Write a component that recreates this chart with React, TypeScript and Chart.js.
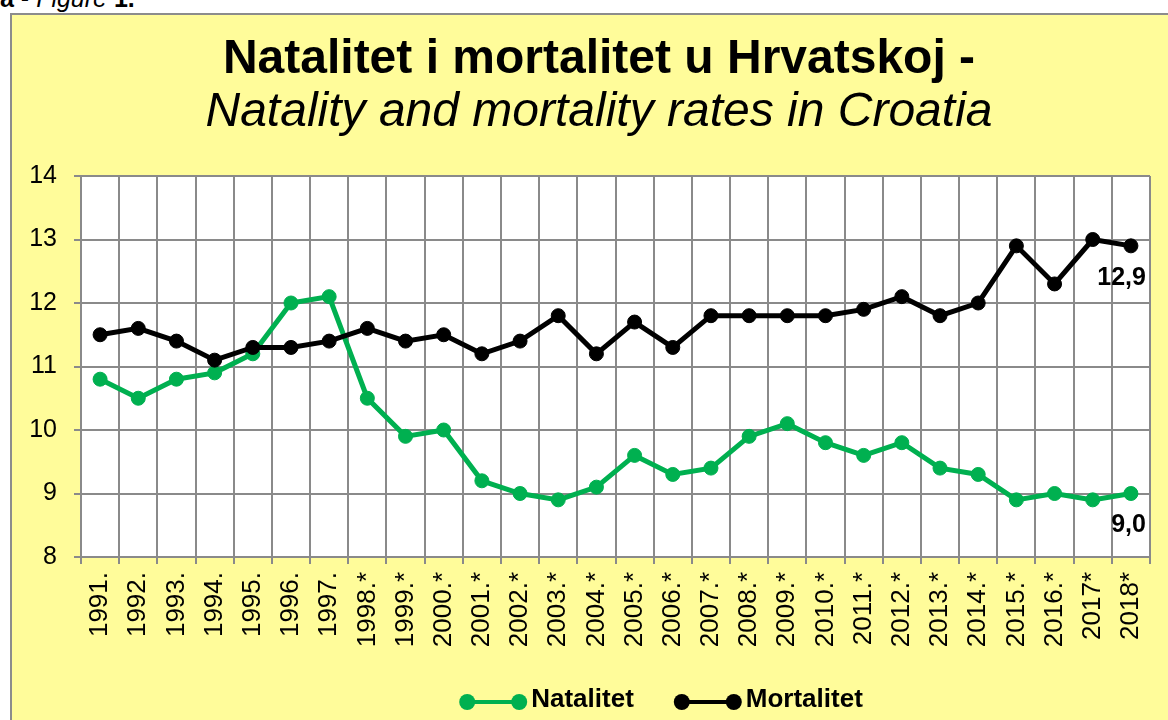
import React, { useEffect, useRef } from "react";
import { Chart, registerables } from "chart.js";

Chart.register(...registerables);

const FONT = '"Liberation Sans", Arial, Helvetica, sans-serif';

const categories = [
  "1991.", "1992.", "1993.", "1994.", "1995.", "1996.", "1997.",
  "1998.*", "1999.*", "2000.*", "2001.*", "2002.*", "2003.*", "2004.*",
  "2005.*", "2006.*", "2007.*", "2008.*", "2009.*", "2010.*", "2011.*",
  "2012.*", "2013.*", "2014.*", "2015.*", "2016.*", "2017*", "2018*",
];

const natalitet = [
  10.8, 10.5, 10.8, 10.9, 11.2, 12.0, 12.1, 10.5, 9.9, 10.0, 9.2, 9.0, 8.9, 9.1,
  9.6, 9.3, 9.4, 9.9, 10.1, 9.8, 9.6, 9.8, 9.4, 9.3, 8.9, 9.0, 8.9, 9.0,
];

const mortalitet = [
  11.5, 11.6, 11.4, 11.1, 11.3, 11.3, 11.4, 11.6, 11.4, 11.5, 11.2, 11.4, 11.8, 11.2,
  11.7, 11.3, 11.8, 11.8, 11.8, 11.8, 11.9, 12.1, 11.8, 12.0, 12.9, 12.3, 13.0, 12.9,
];

const seriesNames = ["Natalitet", "Mortalitet"];
const seriesColors = ["#00B050", "#000000"];

const titleText = "Natalitet i mortalitet u Hrvatskoj -";
const subtitleText = "Natality and mortality rates in Croatia";

const yMin = 8;
const yMax = 14;
const yStep = 1;

const GRID = "#8a8a8a";

const plotBgPlugin = {
  id: "plotBg",
  beforeDraw(chart: any) {
    const { ctx, chartArea } = chart;
    ctx.save();
    ctx.fillStyle = "#ffffff";
    ctx.fillRect(chartArea.left, chartArea.top, chartArea.right - chartArea.left, chartArea.bottom - chartArea.top);
    ctx.restore();
  },
};

const endLabelPlugin = {
  id: "endLabels",
  afterDatasetsDraw(chart: any) {
    const ctx = chart.ctx;
    ctx.save();
    ctx.font = `bold 25px ${FONT}`;
    ctx.fillStyle = "#000";
    ctx.textAlign = "right";
    ctx.textBaseline = "middle";
    chart.data.datasets.forEach((ds: any, i: number) => {
      const meta = chart.getDatasetMeta(i);
      const pt = meta.data[meta.data.length - 1];
      const v = ds.data[ds.data.length - 1] as number;
      const text = v.toFixed(1).replace(".", ",");
      ctx.fillText(text, pt.x + 15, pt.y + 32);
    });
    ctx.restore();
  },
};

const legendPlugin = {
  id: "customLegend",
  afterDraw(chart: any) {
    const ctx = chart.ctx;
    ctx.save();
    ctx.font = `bold 26px ${FONT}`;
    const r = 8;
    const marker = 52;
    const gapText = 12;
    const gapItem = 40;
    const items = chart.data.datasets.map((ds: any) => ({
      label: ds.label as string,
      color: ds.borderColor as string,
      w: ctx.measureText(ds.label).width,
    }));
    let total = 0;
    items.forEach((it: any, i: number) => {
      total += r + marker + gapText + it.w + (i > 0 ? gapItem : 0);
    });
    const centerX = chart.width / 2 + 62;
    const yLine = 687;
    const yText = 692;
    let x = centerX - total / 2;
    items.forEach((it: any, i: number) => {
      if (i > 0) x += gapItem;
      const c1 = x + r;
      const c2 = c1 + marker;
      ctx.strokeStyle = it.color;
      ctx.fillStyle = it.color;
      ctx.lineWidth = 4;
      ctx.beginPath();
      ctx.moveTo(c1, yLine);
      ctx.lineTo(c2, yLine);
      ctx.stroke();
      ctx.beginPath();
      ctx.arc(c1, yLine, r, 0, Math.PI * 2);
      ctx.fill();
      ctx.beginPath();
      ctx.arc(c2, yLine, r, 0, Math.PI * 2);
      ctx.fill();
      ctx.fillStyle = "#000";
      ctx.textAlign = "left";
      ctx.textBaseline = "alphabetic";
      ctx.fillText(it.label, c2 + gapText, yText);
      x = c2 + gapText + it.w;
    });
    ctx.restore();
  },
};

export default function App() {
  const canvasRef = useRef<HTMLCanvasElement | null>(null);

  useEffect(() => {
    if (!canvasRef.current) return;
    const chart = new Chart(canvasRef.current, {
      type: "line",
      data: {
        labels: categories,
        datasets: [
          {
            label: seriesNames[0],
            data: natalitet,
            borderColor: seriesColors[0],
            backgroundColor: seriesColors[0],
            borderWidth: 5,
            pointRadius: 7,
            pointBorderWidth: 1,
            pointBackgroundColor: seriesColors[0],
            pointBorderColor: seriesColors[0],
            tension: 0,
            order: 1,
            yAxisID: "y",
          },
          {
            label: seriesNames[1],
            data: mortalitet,
            borderColor: seriesColors[1],
            backgroundColor: seriesColors[1],
            borderWidth: 5,
            pointRadius: 7,
            pointBorderWidth: 1,
            pointBackgroundColor: seriesColors[1],
            pointBorderColor: seriesColors[1],
            tension: 0,
            order: 0,
            yAxisID: "y",
          },
        ],
      },
      options: {
        responsive: false,
        animation: false,
        layout: { padding: { left: 0, right: 0, top: 0, bottom: 78 } },
        plugins: {
          legend: { display: false },
          tooltip: { enabled: false },
          title: {
            display: true,
            text: titleText,
            color: "#000",
            font: { family: FONT, size: 48, weight: "bold", lineHeight: 1 },
            padding: { top: 21, bottom: 5 },
          },
          subtitle: {
            display: true,
            text: subtitleText,
            color: "#000",
            font: { family: FONT, size: 48, style: "italic", weight: "normal", lineHeight: 1 },
            padding: { top: 0, bottom: 39 },
          },
        },
        scales: {
          x: {
            type: "category",
            offset: true,
            grid: {
              display: true,
              offset: true,
              color: GRID,
              lineWidth: 2,
              drawTicks: true,
              tickLength: 7,
            },
            border: { display: true, color: GRID, width: 2 },
            ticks: {
              autoSkip: false,
              minRotation: 90,
              maxRotation: 90,
              padding: 8,
              color: "#000",
              font: { family: FONT, size: 26 },
            },
            afterFit: (scale: any) => {
              scale.height = 100;
            },
          },
          y: {
            min: yMin,
            max: yMax,
            grid: {
              color: GRID,
              lineWidth: 2,
              drawTicks: true,
              tickLength: 7,
            },
            border: { display: true, color: GRID, width: 2 },
            ticks: {
              stepSize: yStep,
              padding: 17,
              color: "#000",
              font: { family: FONT, size: 25 },
            },
            afterFit: (scale: any) => {
              scale.width = 69;
            },
          },
          yRight: {
            position: "right",
            min: yMin,
            max: yMax,
            grid: { display: false, drawTicks: false },
            border: { display: false },
            ticks: { display: false },
            afterFit: (scale: any) => {
              scale.width = 36;
            },
          },
        },
      },
      plugins: [plotBgPlugin, endLabelPlugin, legendPlugin],
    });
    return () => chart.destroy();
  }, []);

  return (
    <div
      style={{
        position: "fixed",
        left: 0,
        top: 0,
        width: 1168,
        height: 720,
        overflow: "hidden",
        background: "#ffffff",
        fontFamily: FONT,
      }}
    >
      <div
        style={{
          position: "absolute",
          left: 0,
          top: -15,
          fontSize: 25,
          lineHeight: "26px",
          color: "#000",
          whiteSpace: "nowrap",
        }}
      >
        <b>a</b> - <i>Figure</i> <b>1.</b>
      </div>
      <div
        style={{
          position: "absolute",
          left: 10,
          top: 13,
          width: 1180,
          height: 740,
          border: "2px solid #8c8c8c",
          background: "#FFFC9A",
        }}
      >
        <canvas ref={canvasRef} width={1174} height={720} style={{ display: "block" }} />
      </div>
    </div>
  );
}
